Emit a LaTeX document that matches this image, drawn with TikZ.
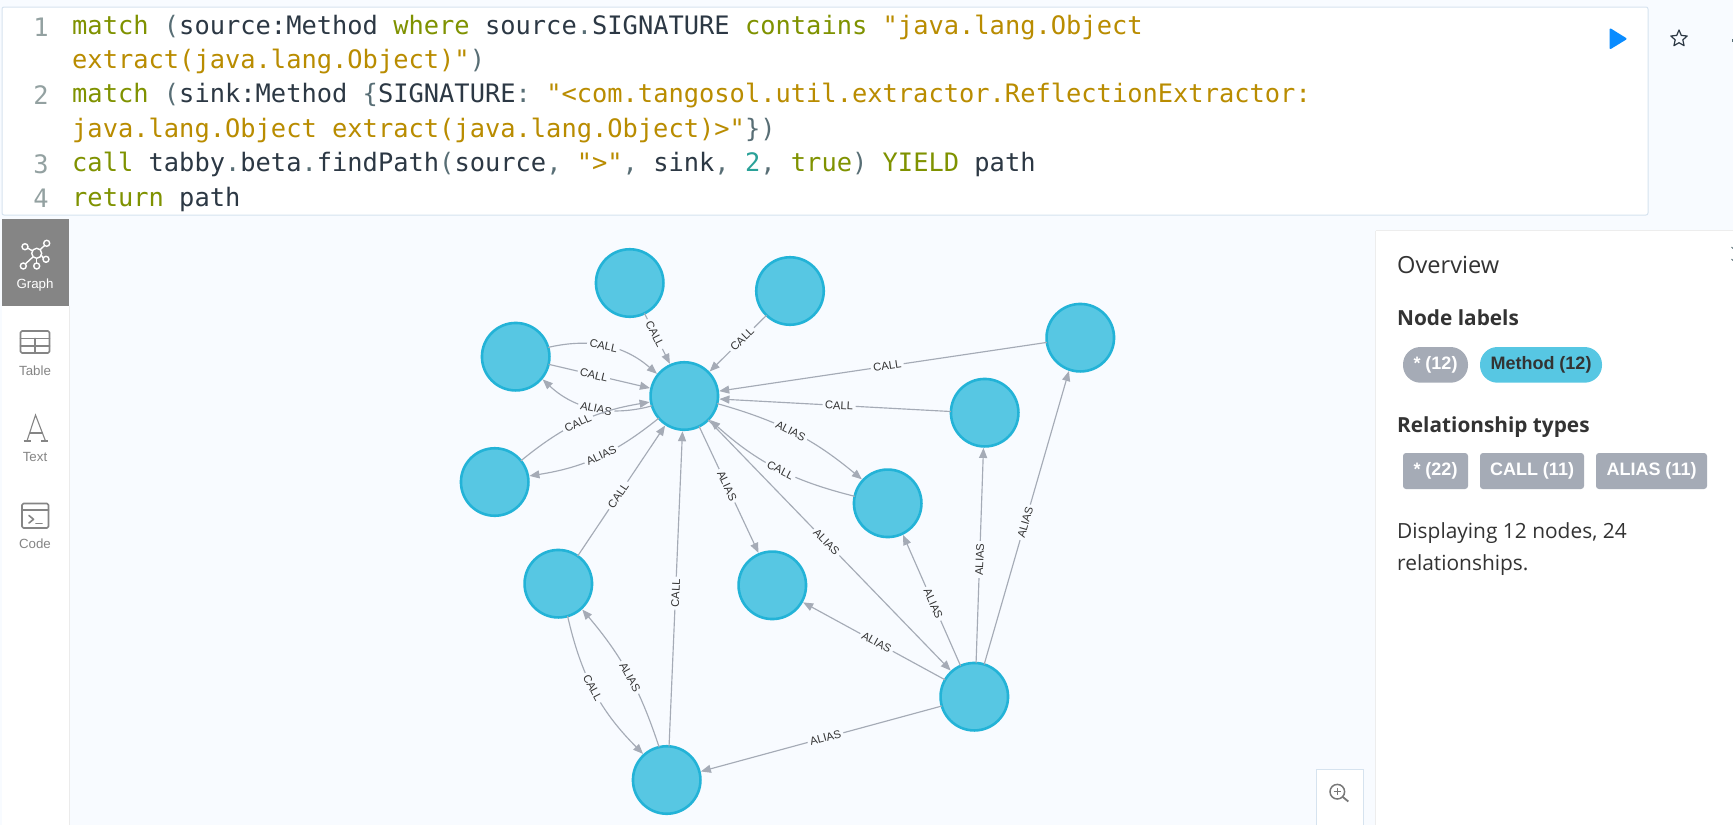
\documentclass[tikz,border=0pt]{standalone}
\usepackage{fontspec}
\usetikzlibrary{arrows.meta}
\setmainfont{Liberation Sans}
\setsansfont{Liberation Sans}
\setmonofont{DejaVu Sans Mono}
\newfontfamily\opensans{Open Sans}
\definecolor{bgc}{HTML}{F8FBFF}
\definecolor{kw}{HTML}{7F9200}
\definecolor{strc}{HTML}{B98C00}
\definecolor{numc}{HTML}{2AA198}
\definecolor{punc}{HTML}{586E75}
\definecolor{txtc}{HTML}{2C3844}
\definecolor{gutter}{HTML}{93A1A1}
\definecolor{edgec}{HTML}{A5ABB6}
\definecolor{fillc}{HTML}{57C7E3}
\definecolor{borderc}{HTML}{23B3D7}
\definecolor{framec}{HTML}{D6E3EF}
\definecolor{railg}{HTML}{858585}
\definecolor{darkt}{HTML}{333333}
\definecolor{playc}{HTML}{0A8CFF}
\newcommand{\K}[1]{\textcolor{kw}{#1}}
\newcommand{\St}[1]{\textcolor{strc}{#1}}
\newcommand{\Pn}[1]{\textcolor{punc}{#1}}
\newcommand{\Nm}[1]{\textcolor{numc}{#1}}
\tikzset{
  gnode/.style={circle,draw=borderc,fill=fillc,line width=2.6pt,minimum size=67.5pt,inner sep=0pt,outer sep=0pt},
  elink/.style={draw=edgec,line width=1.15pt,shorten >=1.5pt,-{Triangle[length=10pt,width=8pt]}},
  elabel/.style={fill=bgc,text=darkt,font=\fontsize{11.2}{12}\selectfont,inner xsep=2.5pt,inner ysep=0.5pt,sloped},
  codeline/.style={anchor=base west,inner sep=0pt,text=txtc,font=\ttfamily\fontsize{25.4}{30}\selectfont},
  gutterno/.style={anchor=base,inner sep=0pt,text=gutter,font=\ttfamily\fontsize{25.4}{30}\selectfont},
  railtext/.style={anchor=base,inner sep=0pt,text=railg,font=\fontsize{13.3}{15}\selectfont},
  panelhead/.style={anchor=base west,inner sep=0pt,text=darkt,font=\opensans\bfseries\fontsize{20.8}{24}\selectfont},
  paneltext/.style={anchor=base west,inner sep=0pt,text=darkt,font=\opensans\fontsize{20.9}{24}\selectfont},
  pilltext/.style={inner sep=0pt,text=white,font=\bfseries\fontsize{18}{20}\selectfont},
  iconline/.style={draw=railg,line width=1.6pt,line join=round,line cap=round}
}
\begin{document}
\begin{tikzpicture}[x=1pt,y=-1pt]
\useasboundingbox (0,0) rectangle (1733,825);
\fill[bgc] (0,0) rectangle (1733,825);
% code box
\draw[framec,fill=white,line width=1pt,rounded corners=2pt] (2,7) rectangle (1648,215);
\node[gutterno] (n1) at (41,36) {1};
\node[gutterno] (n2) at (41,104) {2};
\node[gutterno] (n3) at (41,173) {3};
\node[gutterno] (n4) at (41,207) {4};
\node[codeline] (l1) at (72,34) {\K{match} \Pn{(}source:Method \K{where} source\Pn{.}SIGNATURE \K{contains} \St{"java.lang.Object}};
\node[codeline] (l2) at (72,68.5) {\St{extract(java.lang.Object)"}\Pn{)}};
\node[codeline] (l3) at (72,102.5) {\K{match} \Pn{(}sink:Method \Pn{\{}SIGNATURE\Pn{:} \St{"<com.tangosol.util.extractor.ReflectionExtractor:}};
\node[codeline] (l4) at (72,137) {\St{java.lang.Object extract(java.lang.Object)>"}\Pn{\})}};
\node[codeline] (l5) at (72,171) {\K{call} tabby\Pn{.}beta\Pn{.}findPath\Pn{(}source\Pn{,} \St{">"}\Pn{,} sink\Pn{,} \Nm{2}\Pn{,} \K{true}\Pn{)} \K{YIELD} path};
\node[codeline] (l6) at (72,206) {\K{return} path};
% run + star
\draw[playc,fill=playc,line width=2pt,line join=round] (1610.5,29.5) -- (1625.5,38.8) -- (1610.5,48) -- cycle;
\draw[txtc,line width=1.2pt,line join=round] (1679,30)--(1681.3,35.4)--(1687.2,36)--(1682.8,39.9)--(1684.1,45.7)--(1679,42.7)--(1673.9,45.7)--(1675.2,39.9)--(1670.8,36)--(1676.7,35.4)--cycle;
\fill[punc] (1732,38.5) rectangle (1733,41.5);
% rail
\fill[white] (2,219) rectangle (69,825);
\draw[black!8,line width=1pt] (69.5,306) -- (69.5,825);
\fill[railg] (2,219) rectangle (69,306);
% graph icon
\begin{scope}[draw=white,line width=1.4pt]
\draw (36.7,253.3) circle[radius=5];
\draw (25,246.7) circle[radius=3];
\draw (46.7,243.3) circle[radius=3];
\draw (46,259.3) circle[radius=3];
\draw (36.7,266) circle[radius=3];
\draw (23.3,266) circle[radius=3];
\draw (27.5,248) -- (32.4,250.8);
\draw (44.7,245.4) -- (40.2,249.6);
\draw (43.2,258.2) -- (41.4,255.2);
\draw (36.7,263) -- (36.7,258.3);
\draw (25.4,263.9) -- (33.1,256.8);
\end{scope}
\node[railtext,text=white] (tgraph) at (35,288) {Graph};
% table icon
\draw[iconline,rounded corners=1.5pt] (20.5,331) rectangle (49.5,353);
\draw[iconline] (20.5,338.5) -- (49.5,338.5);
\draw[iconline] (20.5,346) -- (49.5,346);
\draw[iconline] (35,338.5) -- (35,353);
\node[railtext] (ttable) at (35,375.5) {Table};
% text icon
\draw[draw=railg,line width=1.1pt] (27,441) -- (35.5,415) -- (45.5,441);
\draw[draw=railg,line width=1.1pt] (29.5,433) -- (43,433);
\draw[draw=railg,line width=1.1pt] (23.5,441) -- (31,441);
\draw[draw=railg,line width=1.1pt] (41,441) -- (48,441);
\node[railtext] (ttext) at (35,461) {Text};
% code icon
\draw[iconline,rounded corners=1.5pt] (22,503.5) rectangle (48.5,528);
\draw[iconline] (22,510) -- (48.5,510);
\draw[iconline] (29,515.5) -- (33.5,519.3) -- (29,523);
\draw[iconline] (36,523.3) -- (42,523.3);
\node[railtext] (tcode) at (35,548.5) {Code};
% overview panel
\fill[white] (1376,231) rectangle (1733,825);
\draw[black!7,line width=1pt] (1375.5,231) -- (1375.5,825);
\draw[black!7,line width=1pt] (1375.5,230.5) -- (1733,230.5);
\node[anchor=base west,inner sep=0pt,text=darkt,font=\opensans\fontsize{23.6}{28}\selectfont] (tover) at (1397,273.7) {Overview};
\node[panelhead] (tnl) at (1397,325.7) {Node labels};
\node[panelhead] (trt) at (1397,432.7) {Relationship types};
\fill[edgec,rounded corners=17.5pt] (1403,347) rectangle (1468,382.7);
\fill[fillc,rounded corners=17.5pt] (1480,347) rectangle (1602,382.7);
\node[pilltext] (p1) at (1435.5,364.5) {* (12)};
\node[pilltext,text=darkt] (p2) at (1541,364.5) {Method (12)};
\fill[edgec,rounded corners=3pt] (1403,453) rectangle (1468,489);
\fill[edgec,rounded corners=3pt] (1480,453) rectangle (1584,489);
\fill[edgec,rounded corners=3pt] (1596,453) rectangle (1707,489);
\node[pilltext] (r1) at (1435.5,471) {* (22)};
\node[pilltext] (r2) at (1532,471) {CALL (11)};
\node[pilltext] (r3) at (1651.5,471) {ALIAS (11)};
\node[paneltext] (d1) at (1397,538.5) {Displaying 12 nodes, 24};
\node[paneltext] (d2) at (1397,570.5) {relationships.};
\draw[punc,line width=1pt] (1731.5,247) -- (1733,248.5);
\draw[punc,line width=1pt] (1731.5,259) -- (1733,260.5);
% zoom button
\draw[framec,fill=white,line width=1pt] (1316,825) -- (1316,769.5) -- (1363,769.5) -- (1363,825);
\draw[railg!90!black,line width=1.5pt] (1337.3,791.7) circle[radius=7.3];
\draw[railg!90!black,line width=1.8pt] (1342.6,796.8) -- (1348.3,801.5);
\draw[railg!90!black,line width=1.1pt] (1333.7,791.7) -- (1340.9,791.7);
\draw[railg!90!black,line width=1.1pt] (1337.3,788.1) -- (1337.3,795.3);
% nodes
\node[gnode] (ctr) at (684.3,396) {};
\node[gnode] (top1) at (629.7,283) {};
\node[gnode] (top2) at (790,291) {};
\node[gnode] (lefta) at (515.7,356.7) {};
\node[gnode] (leftb) at (494.7,482) {};
\node[gnode] (lowc) at (558.3,583.7) {};
\node[gnode] (midd) at (772.3,585.3) {};
\node[gnode] (bote) at (666.7,780) {};
\node[gnode] (botf) at (974.3,696.7) {};
\node[gnode] (rgtg) at (887.7,503.3) {};
\node[gnode] (rgth) at (984.7,412.7) {};
\node[gnode] (rgti) at (1080.3,337.7) {};
% straight links
\draw[elink] (top1.-64.6) -- node[elabel,pos=.4]{CALL} (ctr.114);
\draw[elink] (top2.226.5) -- node[elabel,pos=.42]{CALL} (ctr.44);
\draw[elink] (lefta.-13.7) -- node[elabel,pos=.44]{CALL} (ctr.167);
\draw[elink] (lowc.55.5) -- node[elabel,pos=.46]{CALL} (ctr.237.8);
\draw[elink] (bote.86.7) -- node[elabel,pos=.484]{CALL} (ctr.267);
\draw[elink] (rgti.188) -- node[elabel,pos=.485]{CALL} (ctr.8);
\draw[elink] (rgth.178) -- node[elabel,pos=.48]{CALL} (ctr.-5);
\draw[elink] (ctr.-64.8) -- node[elabel,pos=.465]{ALIAS} (midd.113.6);
\draw[elink] (ctr.-45) -- node[elabel,pos=.486]{ALIAS} (botf.132.3);
\draw[elink] (botf.150.7) -- node[elabel,pos=.478]{ALIAS} (midd.-29.6);
\draw[elink] (botf.196) -- node[elabel,pos=.48]{ALIAS} (bote.14.9);
\draw[elink] (botf.114.3) -- node[elabel,pos=.47]{ALIAS} (rgtg.-64.4);
\draw[elink] (botf.87.7) -- node[elabel,pos=.478]{ALIAS} (rgth.-92.2);
\draw[elink] (botf.73) -- node[elabel,pos=.482]{ALIAS} (rgti.-109);
% curved links
\draw[elink] (lefta.16) to[bend left=27] node[elabel,pos=.47]{CALL} (ctr.141);
\draw[elink] (ctr.197) to[bend left=29] node[elabel,pos=.47]{ALIAS} (lefta.-40.8);
\draw[elink] (leftb.39) to[bend left=15] node[elabel,pos=.47]{CALL} (ctr.190);
\draw[elink] (ctr.221) to[bend left=15] node[elabel,pos=.47]{ALIAS} (leftb.10);
\draw[elink] (rgtg.168) to[bend left=14] node[elabel,pos=.47]{CALL} (ctr.-43.9);
\draw[elink] (ctr.-13.3) to[bend left=12] node[elabel,pos=.47]{ALIAS} (rgtg.137.3);
\draw[elink] (lowc.-74.8) to[bend right=16] node[elabel,pos=.47]{CALL} (bote.132);
\draw[elink] (bote.103) to[bend right=11] node[elabel,pos=.47]{ALIAS} (lowc.-47);
\end{tikzpicture}
\end{document}
